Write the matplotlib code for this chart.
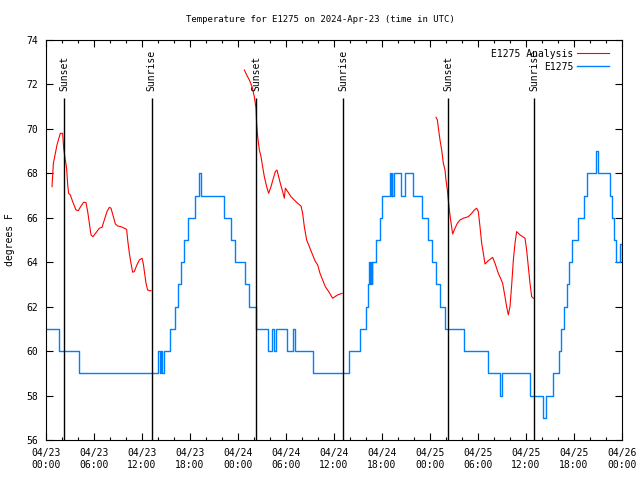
import numpy as np
import pandas as pd
import matplotlib
matplotlib.use("Agg")
import matplotlib.pyplot as plt
import matplotlib.dates as mdates

plt.rcParams["font.family"] = ["DejaVu Sans Mono"]
plt.rcParams["font.size"] = 7

start = pd.Timestamp("2024-04-23 00:00")

# observations (hours since start, deg F), held until next sample
obs_hours = [0, 1.6, 4.1, 14.0, 14.2, 14.35, 14.5, 14.8, 15.5, 16.1, 16.5, 16.9,
             17.3, 17.8, 18.6, 19.1, 19.4, 22.2, 23.1, 23.6, 24.9, 25.4, 26.2,
             27.7, 28.2, 28.5, 28.7, 30.1, 30.85, 31.1, 33.4, 37.9, 39.3, 40.0,
             40.2, 40.4, 40.5, 40.6, 40.7, 40.8, 41.2, 41.75, 42.0, 43.0, 43.1,
             43.2, 43.3, 43.5, 44.4, 44.9, 45.9, 47.0, 47.7, 48.2, 48.8, 49.3,
             49.9, 52.3, 55.3, 56.8, 57.0, 60.5, 62.1, 62.5, 63.4, 64.1, 64.4,
             64.8, 65.1, 65.4, 65.8, 66.5, 67.2, 67.6, 68.8, 69.0, 70.5, 70.8,
             71.0, 71.2, 71.75, 71.95, 72.0]
obs_temp = [61, 60, 59, 60, 59, 60, 59, 60, 61, 62, 63, 64,
            65, 66, 67, 68, 67, 66, 65, 64, 63, 62, 61,
            60, 61, 60, 61, 60, 61, 60, 59, 60, 61, 62,
            63, 64, 63, 64, 63, 64, 65, 66, 67, 68, 67,
            68, 67, 68, 67, 68, 67, 66, 65, 64, 63, 62,
            61, 60, 59, 58, 59, 58, 57, 58, 59, 60, 61,
            62, 63, 64, 65, 66, 67, 68, 69, 68, 67, 66,
            65, 64, 64.8, 64, 64]

# analysis, three night-time runs
ana1_hours = [0.75, 0.92, 1.17, 1.375, 1.67, 1.79, 2.08, 2.21, 2.375, 2.58, 2.71,
              2.83, 3.04, 3.33, 3.75, 4.04, 4.375, 4.71, 5.0, 5.21, 5.42, 5.625,
              5.875, 6.25, 6.67, 7.0, 7.29, 7.625, 7.92, 8.125, 8.42, 8.67, 8.96,
              9.375, 9.79, 10.08, 10.21, 10.42, 10.625, 10.83, 11.04, 11.33,
              11.67, 12.0, 12.17, 12.33, 12.5, 12.71, 12.92, 13.125]
ana1_temp = [67.4, 68.45, 68.9, 69.28, 69.65, 69.8, 69.8, 69.13, 68.68, 68.23, 67.48,
             67.1, 67.03, 66.73, 66.35, 66.32, 66.53, 66.7, 66.68, 66.28, 65.75, 65.23,
             65.15, 65.33, 65.53, 65.57, 65.9, 66.28, 66.47, 66.43, 66.05, 65.72, 65.63,
             65.6, 65.53, 65.48, 65.0, 64.4, 63.95, 63.55, 63.58, 63.85,
             64.1, 64.18, 63.92, 63.5, 63.05, 62.75, 62.72, 62.72]
ana2_hours = [24.79, 25.08, 25.42, 25.75, 26.04, 26.25, 26.33, 26.46, 26.67, 26.875,
              27.08, 27.29, 27.58, 27.83, 28.125, 28.42, 28.67, 28.875, 29.08, 29.29,
              29.58, 29.79, 29.92, 30.21, 30.625, 31.04, 31.46, 31.875, 32.08, 32.29,
              32.58, 32.92, 33.25, 33.67, 33.96, 34.25, 34.58, 34.92, 35.33, 35.83,
              36.46, 37.0]
ana2_temp = [72.65, 72.43, 72.2, 71.9, 71.45, 70.93, 70.25, 69.65, 69.05, 68.75,
             68.3, 67.85, 67.4, 67.1, 67.4, 67.78, 68.08, 68.15, 67.85, 67.55,
             67.18, 66.88, 67.33, 67.18, 66.95, 66.8, 66.65, 66.53, 66.2, 65.6,
             65.0, 64.7, 64.4, 64.03, 63.88, 63.5, 63.2, 62.9, 62.68, 62.38,
             62.53, 62.6]
ana3_hours = [48.75, 48.92, 49.08, 49.25, 49.46, 49.67, 49.875, 50.0, 50.17, 50.29,
              50.42, 50.58, 50.83, 51.125, 51.42, 51.75, 52.17, 52.79, 53.21, 53.54,
              53.83, 54.04, 54.25, 54.46, 54.67, 54.875, 55.29, 55.83, 56.125, 56.54,
              56.83, 57.08, 57.375, 57.58, 57.79, 58.0, 58.21, 58.42, 58.625, 58.83,
              59.25, 59.875, 60.08, 60.29, 60.5, 60.71, 60.92]
ana3_temp = [70.52, 70.4, 69.95, 69.5, 69.05, 68.45, 68.15, 67.7, 67.25, 66.8,
             66.35, 65.9, 65.27, 65.53, 65.75, 65.9, 65.98, 66.05, 66.2, 66.35,
             66.43, 66.28, 65.6, 64.85, 64.4, 63.92, 64.07, 64.22, 63.95, 63.5,
             63.27, 63.05, 62.45, 62.0, 61.63, 62.0, 62.98, 64.1, 64.85, 65.38,
             65.23, 65.08, 64.55, 63.8, 63.05, 62.45, 62.38]

sun_hours = [2.27, 13.2, 26.27, 37.15, 50.28, 61.03]
sun_labels = ["Sunset", "Sunrise", "Sunset", "Sunrise", "Sunset", "Sunrise"]


def to_time(hours):
    return start + pd.to_timedelta(np.asarray(hours, dtype=float), unit="h")


fig = plt.figure(figsize=(6.4, 4.8), dpi=100)
ax = fig.add_axes([46 / 640, 40 / 480, 576 / 640, 400 / 480])

red = "#ff0000"
blue = "#0080ff"

ax.plot(to_time(ana1_hours), ana1_temp, color=red, lw=0.8, label="E1275 Analysis")
ax.plot(to_time(ana2_hours), ana2_temp, color=red, lw=0.8)
ax.plot(to_time(ana3_hours), ana3_temp, color=red, lw=0.8)
ax.plot(to_time(obs_hours), obs_temp, color=blue, lw=1.0, drawstyle="steps-post",
        label="E1275")

sun_t = to_time(sun_hours)
ax.vlines(sun_t, 56, 71.4, color="black", lw=1.0)
for t, lab in zip(sun_t, sun_labels):
    ax.text(t, 71.7, lab, rotation=90, ha="center", va="bottom")

ax.set_xlim(start, start + pd.Timedelta(hours=72))
ax.set_ylim(56, 74)
ax.set_yticks(np.arange(56, 75, 2))
ax.xaxis.set_major_locator(mdates.HourLocator(byhour=range(0, 24, 6)))
ax.xaxis.set_minor_locator(mdates.HourLocator(byhour=range(0, 24, 2)))
ax.xaxis.set_major_formatter(mdates.DateFormatter("%m/%d\n%H:%M"))
ax.tick_params(which="both", direction="in", top=True, right=True, width=0.8)
ax.tick_params(which="major", length=5, pad=6)
ax.tick_params(which="minor", length=2.5)
for s in ax.spines.values():
    s.set_linewidth(0.8)

ax.legend(loc="upper right", bbox_to_anchor=(0.99, 0.995), frameon=False,
          markerfirst=False, handlelength=3.3, borderaxespad=0.3,
          labelspacing=0.3, handletextpad=0.4)

fig.text(0.5, 1 - 19 / 480, "Temperature for E1275 on 2024-Apr-23 (time in UTC)",
         ha="center", va="center", fontsize=6.5)
fig.text(10 / 640, 0.5, "degrees F", rotation=90, ha="center", va="center")

fig.savefig("out.png", dpi=100)
